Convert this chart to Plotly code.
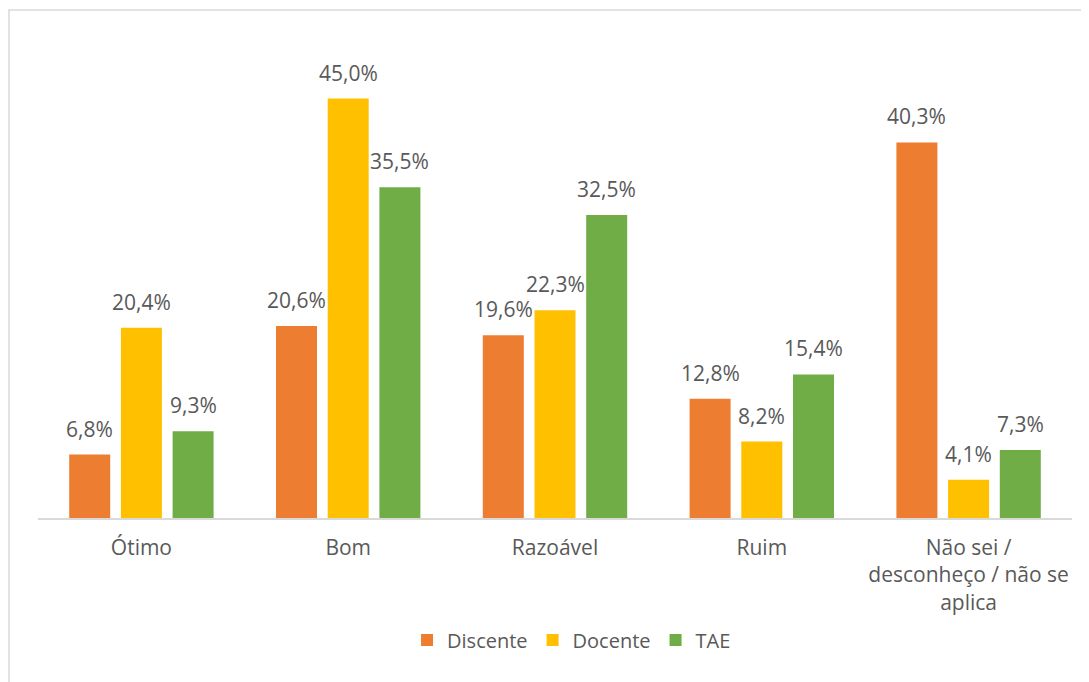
import plotly.graph_objects as go

categories = ["Ótimo", "Bom", "Razoável", "Ruim", "Não sei /<br>desconheço / não se<br>aplica"]
series_names = ["Discente", "Docente", "TAE"]
discente = [6.8, 20.6, 19.6, 12.8, 40.3]
docente = [20.4, 45.0, 22.3, 8.2, 4.1]
tae = [9.3, 35.5, 32.5, 15.4, 7.3]
colors = ["#ED7D31", "#FFC000", "#70AD47"]

FONT = "Open Sans"
TXT = "#595959"

def fmt(v):
    return f"{v:.1f}".replace(".", ",") + "%"

fig = go.Figure()
all_series = [discente, docente, tae]
for name, vals, col in zip(series_names, all_series, colors):
    fig.add_trace(go.Bar(x=categories, y=vals, name=name, marker_color=col,
                         marker_line_width=0, hoverinfo="skip"))

# page body has an 8px margin, so the figure is drawn 8px smaller and offset
W, H = 1081, 674
ml, mr, mt, mb = 30, 17, 44, 164
plot_w = W - ml - mr
plot_h = H - mt - mb
cat_w = plot_w / len(categories)
bargap = 0.25
slot = cat_w * (1 - bargap) / 3

annotations = []
for i, vals in enumerate(all_series):
    for c, v in zip(categories, vals):
        annotations.append(dict(x=c, y=v, xref="x", yref="y", text=fmt(v), showarrow=False,
                                xshift=(i - 1) * slot, yshift=26, yanchor="middle",
                                font=dict(family=FONT, size=21, color=TXT)))

fig.update_layout(
    width=W, height=H,
    margin=dict(l=ml, r=mr, t=mt, b=mb),
    paper_bgcolor="white", plot_bgcolor="white",
    barmode="group", bargap=bargap, bargroupgap=0.207,
    font=dict(family=FONT, size=20, color=TXT),
    showlegend=True,
    legend=dict(orientation="h", x=0.516, xanchor="center", y=-0.262, yanchor="middle",
                font=dict(family=FONT, size=20, color=TXT), itemclick=False),
    annotations=annotations,
    shapes=[dict(type="rect", xref="paper", yref="paper",
                 x0=(1 - ml) / plot_w, x1=(W + 10 - ml) / plot_w,
                 y0=-(mb + 10) / plot_h, y1=(plot_h + mt - 2) / plot_h,
                 line=dict(color="#D9D9D9", width=1.5), fillcolor="rgba(0,0,0,0)", layer="below")],
)
fig.update_xaxes(showline=True, linecolor="#D9D9D9", linewidth=1.5, ticks="",
                 tickfont=dict(family=FONT, size=21, color=TXT), ticklabelstandoff=10,
                 showgrid=False, zeroline=False)
fig.update_yaxes(range=[0, 50], visible=False, showgrid=False, zeroline=False)

fig.write_html("out.html")
